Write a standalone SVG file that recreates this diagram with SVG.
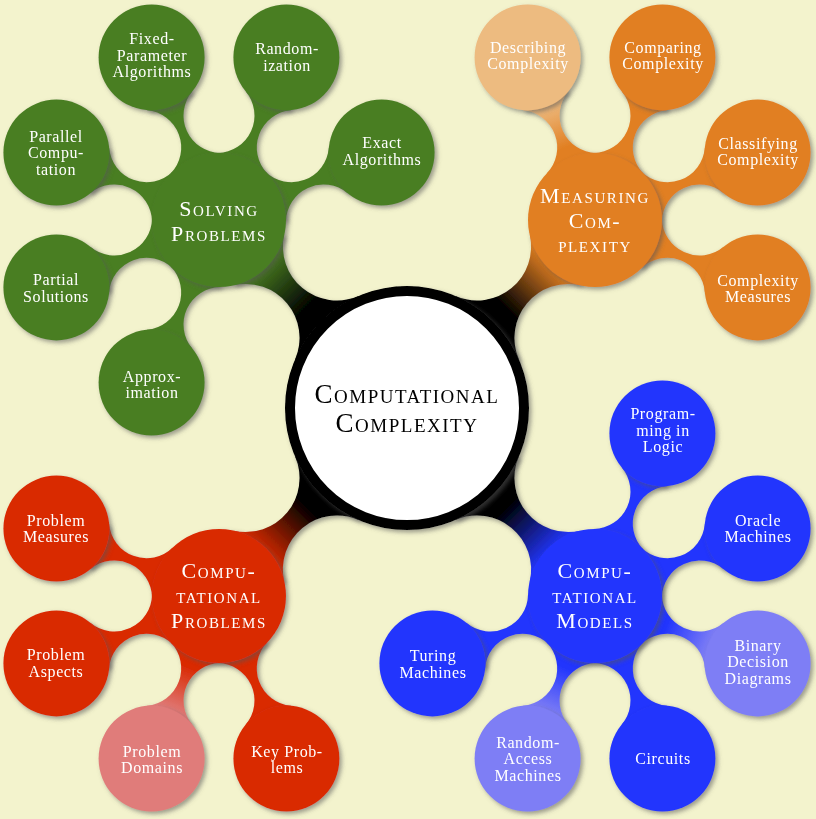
<svg xmlns="http://www.w3.org/2000/svg" width="816" height="819" viewBox="0 0 816 819">
<style>
.bg{fill:#f3f3cd}
.g{fill:#4a7e22}.o{fill:#e17f22}.r{fill:#d92b05}.b{fill:#2336fd}
.lo{fill:#edbb80}.lr{fill:#e07c7a}.lb{fill:#7e7ef5}
.n{filter:url(#sh)}
.t2{font-family:"Liberation Serif",serif;font-size:16px;letter-spacing:0.6px;fill:#fff;text-anchor:middle}
.t1{font-family:"Liberation Serif",serif;font-size:22px;letter-spacing:1.6px;font-variant:small-caps;fill:#fff;text-anchor:middle}
.t0{font-family:"Liberation Serif",serif;font-size:27px;letter-spacing:1.5px;font-variant:small-caps;fill:#000;text-anchor:middle}
</style>
<defs>
<filter id="sh" x="-20%" y="-20%" width="140%" height="140%">
<feDropShadow dx="2.5" dy="2.5" stdDeviation="2" flood-color="#555" flood-opacity="0.55"/>
</filter>
<path id="barC" d="M0,0 L113.5,-44.8 A54,54 0 0 0 209.4,-35.8 L266,0 L209.4,35.8 A54,54 0 0 0 113.5,44.8 Z"/>
<path id="bar2" d="M0,0 L61.4,-26.8 A37.5,37.5 0 0 0 129,-24.5 L176,0 L129,24.5 A37.5,37.5 0 0 0 61.4,26.8 Z"/>
<linearGradient id="cg" gradientUnits="userSpaceOnUse" x1="140" y1="0" x2="205" y2="0"><stop offset="0" stop-color="#000"/><stop offset="1" stop-color="#4a7e22"/></linearGradient>
<linearGradient id="co" gradientUnits="userSpaceOnUse" x1="140" y1="0" x2="205" y2="0"><stop offset="0" stop-color="#000"/><stop offset="1" stop-color="#e17f22"/></linearGradient>
<linearGradient id="cr" gradientUnits="userSpaceOnUse" x1="140" y1="0" x2="205" y2="0"><stop offset="0" stop-color="#000"/><stop offset="1" stop-color="#d92b05"/></linearGradient>
<linearGradient id="cb" gradientUnits="userSpaceOnUse" x1="140" y1="0" x2="205" y2="0"><stop offset="0" stop-color="#000"/><stop offset="1" stop-color="#2336fd"/></linearGradient>
<linearGradient id="lgo" gradientUnits="userSpaceOnUse" x1="78" y1="0" x2="125" y2="0"><stop offset="0" stop-color="#e17f22"/><stop offset="1" stop-color="#edbb80"/></linearGradient>
<linearGradient id="lgr" gradientUnits="userSpaceOnUse" x1="78" y1="0" x2="125" y2="0"><stop offset="0" stop-color="#d92b05"/><stop offset="1" stop-color="#e07c7a"/></linearGradient>
<linearGradient id="lgb" gradientUnits="userSpaceOnUse" x1="78" y1="0" x2="125" y2="0"><stop offset="0" stop-color="#2336fd"/><stop offset="1" stop-color="#7e7ef5"/></linearGradient>
</defs>
<rect class="bg" x="0" y="0" width="816" height="819"/>

<g id="connectors" filter="url(#sh)">
<use href="#barC" fill="url(#cg)" transform="translate(407,408) rotate(-135)"/>
<use href="#barC" fill="url(#co)" transform="translate(407,408) rotate(-45)"/>
<use href="#barC" fill="url(#cr)" transform="translate(407,408) rotate(135)"/>
<use href="#barC" fill="url(#cb)" transform="translate(407,408) rotate(45)"/>
<use href="#bar2" class="g" transform="translate(219,220) rotate(-112.5)"/>
<use href="#bar2" class="g" transform="translate(219,220) rotate(-67.5)"/>
<use href="#bar2" class="g" transform="translate(219,220) rotate(-22.5)"/>
<use href="#bar2" class="g" transform="translate(219,220) rotate(-157.5)"/>
<use href="#bar2" class="g" transform="translate(219,220) rotate(157.5)"/>
<use href="#bar2" class="g" transform="translate(219,220) rotate(112.5)"/>
<use href="#bar2" fill="url(#lgo)" transform="translate(595,220) rotate(-112.5)"/>
<use href="#bar2" class="o" transform="translate(595,220) rotate(-67.5)"/>
<use href="#bar2" class="o" transform="translate(595,220) rotate(-22.5)"/>
<use href="#bar2" class="o" transform="translate(595,220) rotate(22.5)"/>
<use href="#bar2" class="r" transform="translate(219,596) rotate(-157.5)"/>
<use href="#bar2" class="r" transform="translate(219,596) rotate(157.5)"/>
<use href="#bar2" fill="url(#lgr)" transform="translate(219,596) rotate(112.5)"/>
<use href="#bar2" class="r" transform="translate(219,596) rotate(67.5)"/>
<use href="#bar2" class="b" transform="translate(595,596) rotate(-67.5)"/>
<use href="#bar2" class="b" transform="translate(595,596) rotate(-22.5)"/>
<use href="#bar2" fill="url(#lgb)" transform="translate(595,596) rotate(22.5)"/>
<use href="#bar2" class="b" transform="translate(595,596) rotate(67.5)"/>
<use href="#bar2" fill="url(#lgb)" transform="translate(595,596) rotate(112.5)"/>
<use href="#bar2" class="b" transform="translate(595,596) rotate(157.5)"/>
</g>

<g id="computational-complexity">
<circle class="n" cx="407" cy="408" r="117" fill="#fff" stroke="#000" stroke-width="10"/>
<text class="t0" x="407" y="403">Computational</text>
<text class="t0" x="407" y="432">Complexity</text>
</g>

<g id="solving-problems">
<circle class="n g" cx="219" cy="220" r="67"/>
<text class="t1" x="219" y="216">Solving</text>
<text class="t1" x="219" y="241">Problems</text>
</g>
<g id="fixed-parameter-algorithms">
<circle class="n g" cx="151.6" cy="57.4" r="53"/>
<text class="t2" x="152" y="44">Fixed-</text>
<text class="t2" x="152" y="61">Parameter</text>
<text class="t2" x="152" y="77">Algorithms</text>
</g>
<g id="randomization">
<circle class="n g" cx="286.4" cy="57.4" r="53"/>
<text class="t2" x="287" y="54">Random-</text>
<text class="t2" x="287" y="71">ization</text>
</g>
<g id="exact-algorithms">
<circle class="n g" cx="381.6" cy="152.6" r="53"/>
<text class="t2" x="382" y="148">Exact</text>
<text class="t2" x="382" y="165">Algorithms</text>
</g>
<g id="parallel-computation">
<circle class="n g" cx="56.4" cy="152.6" r="53"/>
<text class="t2" x="56" y="142">Parallel</text>
<text class="t2" x="56" y="158">Compu-</text>
<text class="t2" x="56" y="175">tation</text>
</g>
<g id="partial-solutions">
<circle class="n g" cx="56.4" cy="287.4" r="53"/>
<text class="t2" x="56" y="285">Partial</text>
<text class="t2" x="56" y="302">Solutions</text>
</g>
<g id="approximation">
<circle class="n g" cx="151.6" cy="382.6" r="53"/>
<text class="t2" x="152" y="382">Approx-</text>
<text class="t2" x="152" y="398">imation</text>
</g>

<g id="measuring-complexity">
<circle class="n o" cx="595" cy="220" r="67"/>
<text class="t1" x="595" y="203">Measuring</text>
<text class="t1" x="595" y="228">Com-</text>
<text class="t1" x="595" y="252">plexity</text>
</g>
<g id="describing-complexity">
<circle class="n lo" cx="527.6" cy="57.4" r="53"/>
<text class="t2" x="528" y="53">Describing</text>
<text class="t2" x="528" y="69">Complexity</text>
</g>
<g id="comparing-complexity">
<circle class="n o" cx="662.4" cy="57.4" r="53"/>
<text class="t2" x="663" y="53">Comparing</text>
<text class="t2" x="663" y="69">Complexity</text>
</g>
<g id="classifying-complexity">
<circle class="n o" cx="757.6" cy="152.6" r="53"/>
<text class="t2" x="758" y="149">Classifying</text>
<text class="t2" x="758" y="165">Complexity</text>
</g>
<g id="complexity-measures">
<circle class="n o" cx="757.6" cy="287.4" r="53"/>
<text class="t2" x="758" y="286">Complexity</text>
<text class="t2" x="758" y="302">Measures</text>
</g>

<g id="computational-problems">
<circle class="n r" cx="219" cy="596" r="67"/>
<text class="t1" x="219" y="578">Compu-</text>
<text class="t1" x="219" y="603">tational</text>
<text class="t1" x="219" y="628">Problems</text>
</g>
<g id="problem-measures">
<circle class="n r" cx="56.4" cy="528.6" r="53"/>
<text class="t2" x="56" y="526">Problem</text>
<text class="t2" x="56" y="542">Measures</text>
</g>
<g id="problem-aspects">
<circle class="n r" cx="56.4" cy="663.4" r="53"/>
<text class="t2" x="56" y="660">Problem</text>
<text class="t2" x="56" y="677">Aspects</text>
</g>
<g id="problem-domains">
<circle class="n lr" cx="151.6" cy="758.6" r="53"/>
<text class="t2" x="152" y="757">Problem</text>
<text class="t2" x="152" y="773">Domains</text>
</g>
<g id="key-problems">
<circle class="n r" cx="286.4" cy="758.6" r="53"/>
<text class="t2" x="287" y="757">Key Prob-</text>
<text class="t2" x="287" y="773">lems</text>
</g>

<g id="computational-models">
<circle class="n b" cx="595" cy="596" r="67"/>
<text class="t1" x="595" y="578">Compu-</text>
<text class="t1" x="595" y="603">tational</text>
<text class="t1" x="595" y="628">Models</text>
</g>
<g id="programming-in-logic">
<circle class="n b" cx="662.4" cy="433.4" r="53"/>
<text class="t2" x="663" y="419">Program-</text>
<text class="t2" x="663" y="436">ming in</text>
<text class="t2" x="663" y="452">Logic</text>
</g>
<g id="oracle-machines">
<circle class="n b" cx="757.6" cy="528.6" r="53"/>
<text class="t2" x="758" y="526">Oracle</text>
<text class="t2" x="758" y="542">Machines</text>
</g>
<g id="binary-decision-diagrams">
<circle class="n lb" cx="757.6" cy="663.4" r="53"/>
<text class="t2" x="758" y="651">Binary</text>
<text class="t2" x="758" y="667">Decision</text>
<text class="t2" x="758" y="684">Diagrams</text>
</g>
<g id="circuits">
<circle class="n b" cx="662.4" cy="758.6" r="53"/>
<text class="t2" x="663" y="764">Circuits</text>
</g>
<g id="random-access-machines">
<circle class="n lb" cx="527.6" cy="758.6" r="53"/>
<text class="t2" x="528" y="748">Random-</text>
<text class="t2" x="528" y="764">Access</text>
<text class="t2" x="528" y="781">Machines</text>
</g>
<g id="turing-machines">
<circle class="n b" cx="432.4" cy="663.4" r="53"/>
<text class="t2" x="433" y="661">Turing</text>
<text class="t2" x="433" y="678">Machines</text>
</g>
</svg>
